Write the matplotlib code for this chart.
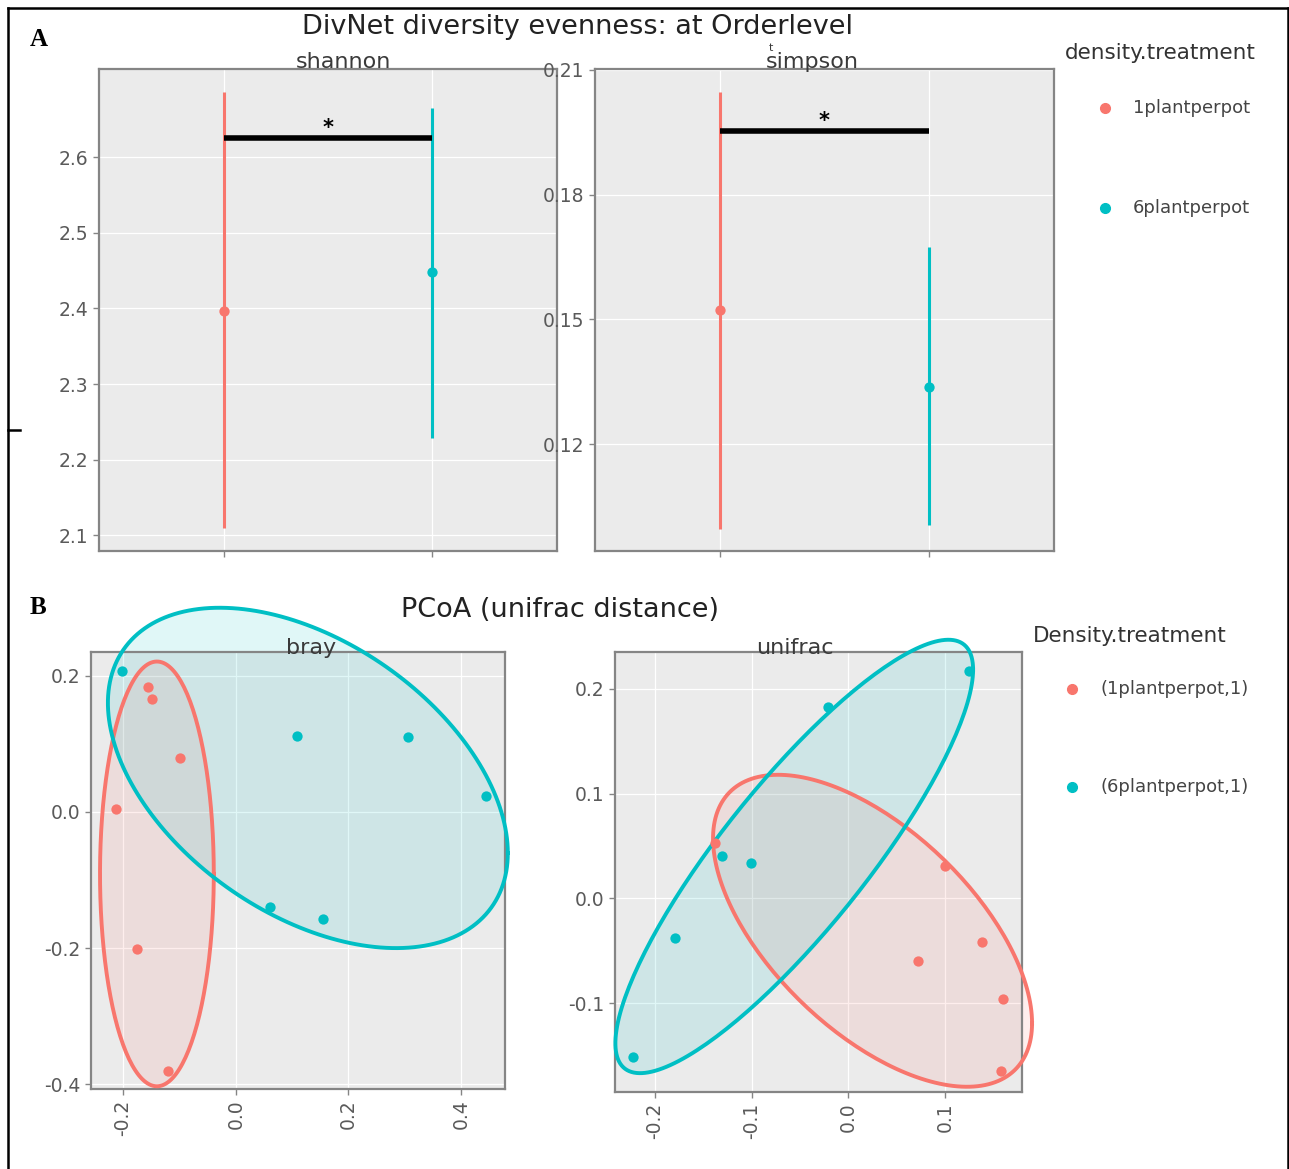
import numpy as np
import matplotlib.pyplot as plt
from matplotlib.lines import Line2D

plt.rcParams['font.family'] = ['DejaVu Sans']
plt.rcParams['axes.unicode_minus'] = False

W, H = 1289, 1169

groups = ['1plantperpot', '6plantperpot']
colors = ['#F8766D', '#00BFC4']

# A: DivNet evenness estimates (point, lower, upper)
shannon_est = [2.397, 2.448]
shannon_lo = [2.109, 2.228]
shannon_hi = [2.686, 2.666]
shannon_sig = 2.626
simpson_est = [0.1522, 0.1338]
simpson_lo = [0.0995, 0.1005]
simpson_hi = [0.2047, 0.1675]
simpson_sig = 0.1953

# B: PCoA coordinates
bray_x1 = [-0.156, -0.149, -0.099, -0.212, -0.175, -0.120]
bray_y1 = [0.184, 0.166, 0.079, 0.004, -0.202, -0.381]
bray_x6 = [-0.202, 0.109, 0.306, 0.444, 0.061, 0.155]
bray_y6 = [0.207, 0.112, 0.110, 0.024, -0.140, -0.157]
uni_x1 = [-0.138, 0.100, 0.138, 0.072, 0.160, 0.158]
uni_y1 = [0.053, 0.031, -0.042, -0.060, -0.096, -0.165]
uni_x6 = [0.125, -0.021, -0.131, -0.101, -0.179, -0.223]
uni_y6 = [0.217, 0.183, 0.040, 0.034, -0.038, -0.152]

# 95% ellipses: centre, half-extent in x/y, correlation
bray_ell_center = [[-0.140, -0.091], [0.128, 0.050]]
bray_ell_sd = [[0.101, 0.312], [0.355, 0.250]]
bray_ell_rho = [0.0, -0.441]
uni_ell_center = [[0.025, -0.031], [-0.056, 0.040]]
uni_ell_sd = [[0.165, 0.149], [0.185, 0.207]]
uni_ell_rho = [-0.592, 0.862]


def fx(x):
    return x / W


def fy(y):
    return 1 - y / H


def rect(l, t, r, b):
    return [l / W, 1 - b / H, (r - l) / W, (b - t) / H]


def style(ax):
    ax.set_facecolor('#EBEBEB')
    for s in ax.spines.values():
        s.set_color('#858585')
        s.set_linewidth(1.6)
    ax.tick_params(colors='#858585', labelcolor='#5A5A5A', labelsize=13.5, length=4, width=1)
    ax.grid(True, color='white', lw=0.9)
    ax.set_axisbelow(True)


def ellipse(center, sd, rho):
    S = np.array([[sd[0] ** 2, rho * sd[0] * sd[1]],
                  [rho * sd[0] * sd[1], sd[1] ** 2]])
    t = np.linspace(0, 2 * np.pi, 200)
    circ = np.column_stack([np.cos(t), np.sin(t)])
    e = np.array(center) + circ @ np.linalg.cholesky(S).T
    return e[:, 0], e[:, 1]


fig = plt.figure(figsize=(W / 100, H / 100), dpi=100)

# ---------- A ----------
ax1 = fig.add_axes(rect(99, 69, 557, 551))
ax2 = fig.add_axes(rect(595, 69, 1054, 551))
ax2.set_zorder(2)
for ax, est, lo, hi, sig, lim, ticks, fmt in [
        (ax1, shannon_est, shannon_lo, shannon_hi, shannon_sig, (2.079, 2.717),
         [2.1, 2.2, 2.3, 2.4, 2.5, 2.6], '%.1f'),
        (ax2, simpson_est, simpson_lo, simpson_hi, simpson_sig, (0.0943, 0.2102),
         [0.12, 0.15, 0.18, 0.21], '%.2f')]:
    style(ax)
    for i in range(2):
        ax.vlines(i, lo[i], hi[i], color=colors[i], lw=2.2)
        ax.scatter(i, est[i], s=55, color=colors[i], zorder=3, lw=0)
    ax.plot([0, 1], [sig, sig], color='black', lw=4, solid_capstyle='butt')
    ax.text(0.5, sig, '*', ha='center', va='bottom', fontsize=15, fontweight='bold')
    ax.set_xlim(-0.6, 1.6)
    ax.set_ylim(*lim)
    ax.set_xticks([0, 1])
    ax.set_xticklabels(['', ''])
    ax.set_yticks(ticks)
    ax.set_yticklabels([fmt % v for v in ticks])

fig.text(fx(577), fy(27), 'DivNet diversity evenness: at Orderlevel', ha='center', va='center',
         fontsize=19.5, color='#222222')
fig.text(fx(343), fy(62), 'shannon', ha='center', va='center', fontsize=16, color='#3A3A3A')
fig.text(fx(812), fy(62), 'simpson', ha='center', va='center', fontsize=16, color='#3A3A3A')
fig.text(fx(771), fy(48), 't', ha='center', va='center', fontsize=8, color='#3A3A3A')

fig.text(fx(1065), fy(53), 'density.treatment', ha='left', va='center', fontsize=15.5, color='#333333')
for i, g in enumerate(groups):
    yy = [108, 208][i]
    fig.add_artist(Line2D([fx(1105)], [fy(yy)], marker='o', ms=7, color=colors[i], lw=0,
                          transform=fig.transFigure))
    fig.text(fx(1133), fy(yy), g, ha='left', va='center', fontsize=13, color='#444444')

# ---------- B ----------
ax3 = fig.add_axes(rect(91, 652, 505, 1089))
ax4 = fig.add_axes(rect(615, 652, 1022, 1092))
panels = [
    (ax3, [(bray_x1, bray_y1), (bray_x6, bray_y6)], bray_ell_center, bray_ell_sd, bray_ell_rho,
     (-0.257, 0.478), (-0.407, 0.235), [-0.2, 0.0, 0.2, 0.4], [-0.4, -0.2, 0.0, 0.2]),
    (ax4, [(uni_x1, uni_y1), (uni_x6, uni_y6)], uni_ell_center, uni_ell_sd, uni_ell_rho,
     (-0.2414, 0.1796), (-0.185, 0.2353), [-0.2, -0.1, 0.0, 0.1], [-0.1, 0.0, 0.1, 0.2]),
]
for ax, data, ec, esd, erho, xl, yl, xt, yt in panels:
    style(ax)
    for i in range(2):
        ex, ey = ellipse(ec[i], esd[i], erho[i])
        ax.fill(ex, ey, color=colors[i], alpha=0.12, lw=0, clip_on=False, zorder=2)
        ax.plot(ex, ey, color=colors[i], lw=2.8, clip_on=False, zorder=3)
    for i, (xs, ys) in enumerate(data):
        ax.scatter(xs, ys, s=55, color=colors[i], zorder=4, lw=0, clip_on=False)
    ax.set_xlim(*xl)
    ax.set_ylim(*yl)
    ax.set_xticks(xt)
    ax.set_xticklabels(['%.1f' % v for v in xt], rotation=90)
    ax.set_yticks(yt)
    ax.set_yticklabels(['%.1f' % v for v in yt])

fig.text(fx(560), fy(610), 'PCoA (unifrac distance)', ha='center', va='center', fontsize=19.5,
         color='#222222')
fig.text(fx(311), fy(648), 'bray', ha='center', va='center', fontsize=16, color='#3A3A3A', zorder=5)
fig.text(fx(795), fy(648), 'unifrac', ha='center', va='center', fontsize=16, color='#3A3A3A', zorder=5)

fig.text(fx(1033), fy(636), 'Density.treatment', ha='left', va='center', fontsize=15.5, color='#333333')
for i, g in enumerate(groups):
    yy = [689, 787][i]
    fig.add_artist(Line2D([fx(1072)], [fy(yy)], marker='o', ms=7, color=colors[i], lw=0,
                          transform=fig.transFigure))
    fig.text(fx(1100), fy(yy), '(%s,1)' % g, ha='left', va='center', fontsize=13, color='#444444')

# panel letters and frame
fig.text(fx(30), fy(40), 'A', family='Liberation Serif', fontweight='bold', fontsize=18, va='center')
fig.text(fx(30), fy(607), 'B', family='Liberation Serif', fontweight='bold', fontsize=18, va='center')
for xs, ys in [([8, 8], [8, H]), ([8, 1288], [8, 8]), ([1288, 1288], [8, H]), ([8, 20], [430, 430])]:
    fig.add_artist(Line2D([fx(v) for v in xs], [fy(v) for v in ys], color='black', lw=1.8,
                          transform=fig.transFigure))

fig.savefig('out.png', dpi=100)
